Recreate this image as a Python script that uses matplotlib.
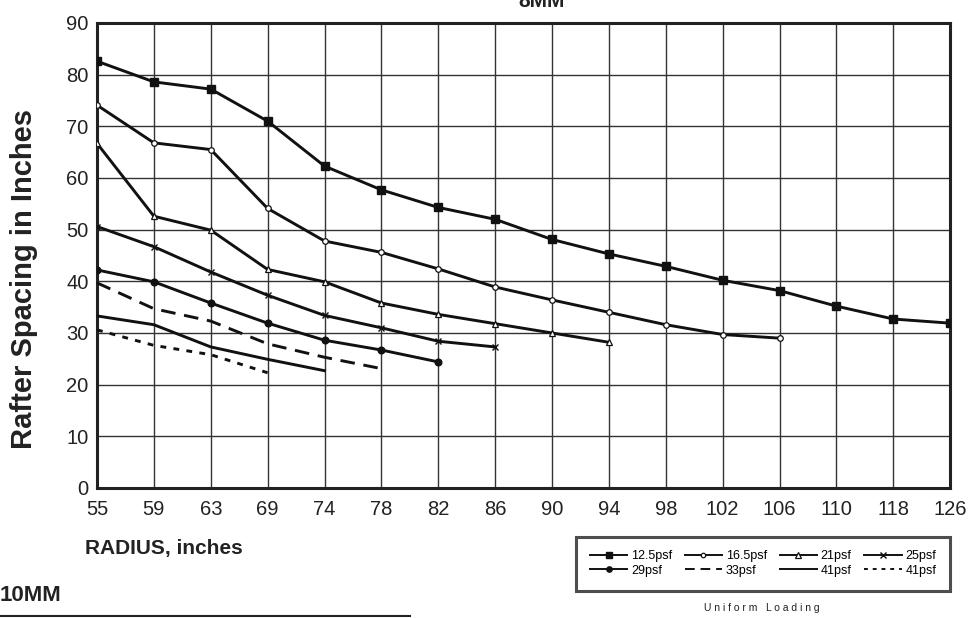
import matplotlib
matplotlib.use("Agg")
import matplotlib.pyplot as plt
from matplotlib.lines import Line2D

plt.rcParams['font.family'] = ['Liberation Sans', 'DejaVu Sans']

radius_labels = ["55", "59", "63", "69", "74", "78", "82", "86", "90",
                 "94", "98", "102", "106", "110", "118", "126"]

spacing_12_5 = [82.6, 78.6, 77.2, 71.0, 62.3, 57.7, 54.3, 52.0, 48.1, 45.3,
                42.9, 40.2, 38.2, 35.2, 32.7, 31.9]
spacing_16_5 = [74.1, 66.8, 65.5, 54.1, 47.8, 45.6, 42.4, 38.9, 36.4, 34.0,
                31.6, 29.7, 29.0]
spacing_21 = [66.7, 52.6, 49.9, 42.3, 39.9, 35.8, 33.6, 31.8, 30.0, 28.2]
spacing_25 = [50.6, 46.7, 41.8, 37.3, 33.4, 31.0, 28.4, 27.3]
spacing_29 = [42.2, 39.9, 35.8, 31.9, 28.6, 26.7, 24.4]
spacing_33 = [39.7, 34.7, 32.3, 27.9, 25.3, 23.1]
spacing_41 = [33.3, 31.6, 27.3, 24.9, 22.7]
spacing_41b = [30.6, 27.6, 25.8, 22.3]

y_ticks = [0, 10, 20, 30, 40, 50, 60, 70, 80, 90]

fig = plt.figure(figsize=(9.75, 6.18), dpi=100)
ax = fig.add_axes([0.0995, 0.2104, 0.875, 0.7524])

series = [
    ("12.5psf", spacing_12_5, dict(marker='s', ms=5.5, ls='-', mfc='#111', mec='#111')),
    ("16.5psf", spacing_16_5, dict(marker='o', ms=4, ls='-', mfc='white', mec='#111', mew=0.9)),
    ("21psf", spacing_21, dict(marker='^', ms=5, ls='-', mfc='white', mec='#111', mew=0.9)),
    ("25psf", spacing_25, dict(marker='x', ms=5, ls='-', mec='#111', mew=1.0)),
    ("29psf", spacing_29, dict(marker='o', ms=4.8, ls='-', mfc='#111', mec='#111')),
    ("33psf", spacing_33, dict(marker=None, ls=(0, (5, 3)))),
    ("41psf", spacing_41, dict(marker=None, ls='-')),
    ("41psf", spacing_41b, dict(marker=None, ls=(0, (2, 2.5)))),
]

handles = []
for label, vals, style in series:
    xs = list(range(len(vals)))
    ln, = ax.plot(xs, vals, color='#111', lw=2.1, label=label, zorder=3, **style)
    handles.append(ln)

ax.set_xlim(0, len(radius_labels) - 1)
ax.set_ylim(0, 90)
ax.set_xticks(range(len(radius_labels)))
ax.set_xticklabels(radius_labels)
ax.set_yticks(y_ticks)
ax.tick_params(axis='both', length=0, labelsize=14.5, colors='#222')
ax.tick_params(axis='x', pad=9)
ax.tick_params(axis='y', pad=6)
ax.grid(True, color='#333', lw=1.0)
ax.set_axisbelow(True)
for side in ax.spines.values():
    side.set_linewidth(2.2)
    side.set_color('#222')

fig.text(0.0246, 0.548, "Rafter Spacing in Inches", rotation=90, ha='center',
         va='center', fontsize=21, fontweight='bold', color='#222')
fig.text(0.087, 0.113, "RADIUS, inches", ha='left', va='center',
         fontsize=15, fontweight='bold', color='#222')
fig.text(0.555, 0.998, "8MM", ha='center', va='center', fontsize=15,
         fontweight='bold', color='#222')
fig.text(0.0, 0.037, "10MM", ha='left', va='center', fontsize=16,
         fontweight='bold', color='#222')
fig.add_artist(Line2D([0.0, 0.42], [0.004, 0.004], color='#222', lw=1.5,
                      transform=fig.transFigure))

order = [0, 4, 1, 5, 2, 6, 3, 7]
leg = fig.legend([handles[i] for i in order], [series[i][0] for i in order],
                 ncol=4, loc='center', bbox_to_anchor=(0.7826, 0.088),
                 fontsize=9, handlelength=3.0, handletextpad=0.3,
                 columnspacing=1.0, labelspacing=0.2, frameon=True,
                 fancybox=False, borderpad=1.1, markerscale=0.8)
leg.get_frame().set_edgecolor('#222')
leg.get_frame().set_linewidth(2.2)
for h in leg.legend_handles:
    h.set_linewidth(1.4)

fig.text(0.7815, 0.016, "U n i f o r m   L o a d i n g", ha='center',
         va='center', fontsize=7.5, color='#222')

fig.savefig("out.png", dpi=100)
